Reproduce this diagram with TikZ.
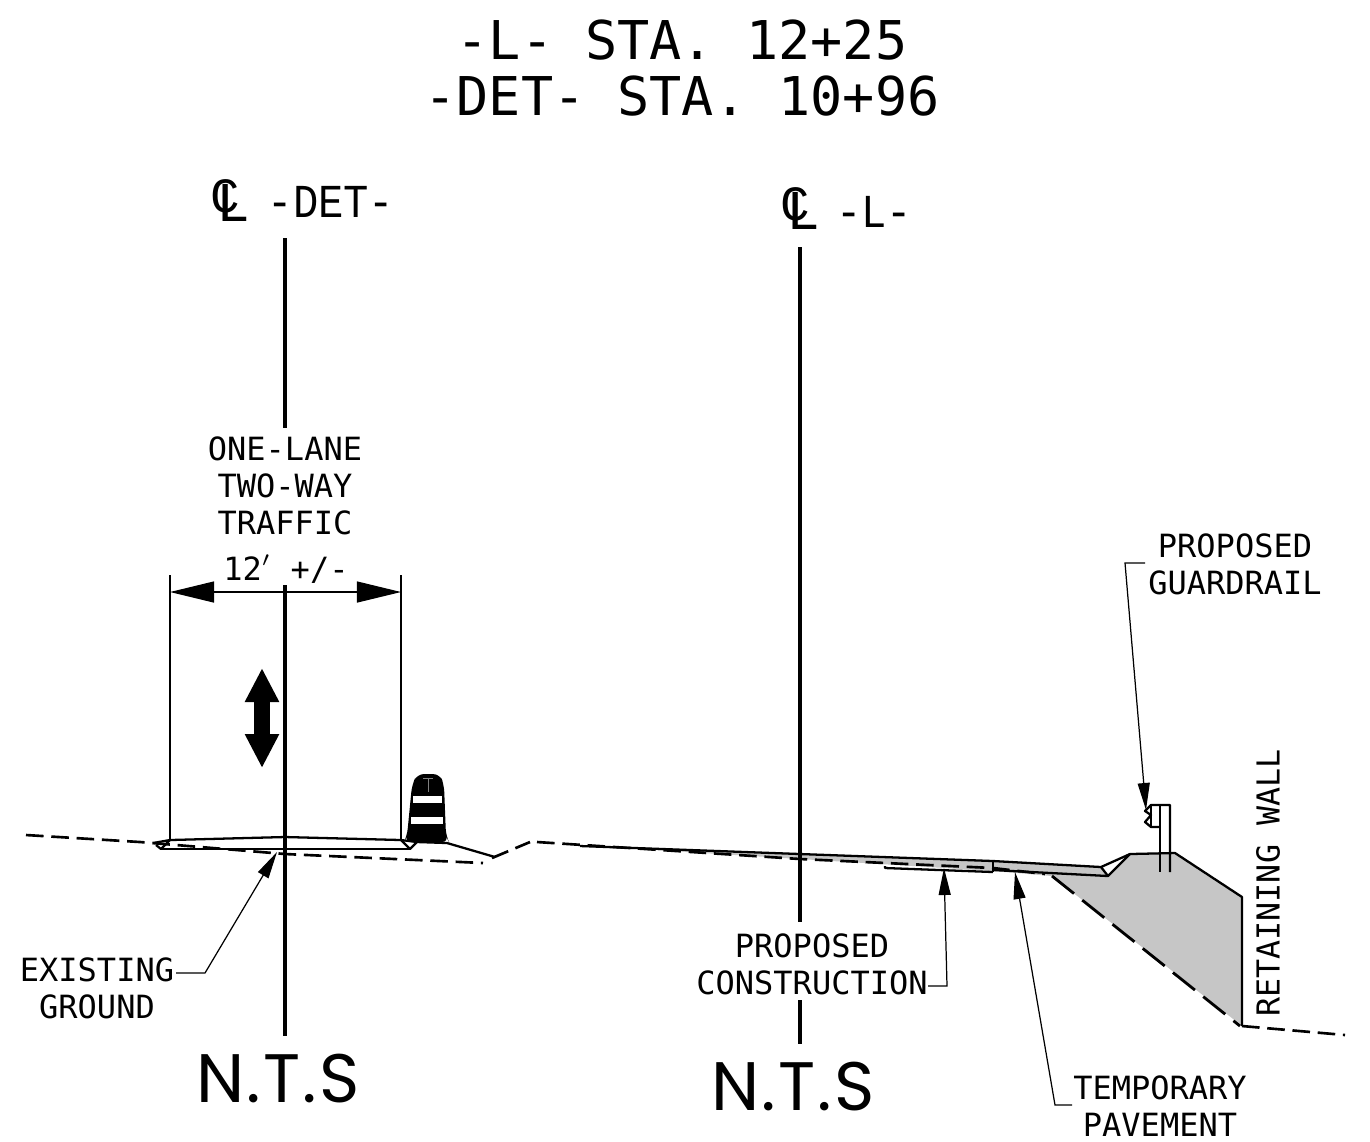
\documentclass[tikz,border=0pt]{standalone}
\usepackage{fontspec}
\usetikzlibrary{arrows.meta}
\newfontfamily\drawfont{DejaVu Sans Mono}
\newfontfamily\thinfont{Liberation Mono}
\newfontfamily\ntsfont{Poppins}
\newcommand{\ntslabel}{N\kern0.6pt.\kern0.6pt T\kern0.6pt.\kern0.6pt S}
\tikzset{
  titletext/.style={font=\drawfont\fontsize{15.2}{15.7}\selectfont,align=center,inner sep=0pt},
  labeltext/.style={font=\drawfont\fontsize{9.1}{10.6}\selectfont,align=center,inner sep=0pt},
  cltext/.style={font=\thinfont\fontsize{12}{12}\selectfont,inner sep=0pt},
  clsymbol/.style={font=\thinfont\fontsize{14}{14}\selectfont,inner sep=0pt},
  ntstext/.style={font=\ntsfont\fontsize{19.5}{20}\selectfont,inner sep=0pt},
  centerline/.style={line width=0.95pt},
  profile/.style={line width=0.65pt,line join=round},
  ground/.style={line width=0.75pt,dash pattern=on 5pt off 2.2pt},
  thinline/.style={line width=0.35pt},
  leader/.style={line width=0.35pt,-{Triangle[length=0.27cm,width=0.12cm]}}
}
\begin{document}
\begin{tikzpicture}[x=0.01cm,y=-0.01cm]
    \useasboundingbox (0,0) rectangle (1370,1141);
    % Titles
    \node[titletext] (title) at (682,68) {-L- STA. 12+25\\-DET- STA. 10+96};
    % Centerline labels
    \node[clsymbol] (clc1) at (225,196) {C};
    \node[clsymbol,font=\thinfont\fontsize{16}{16}\selectfont] (cll1) at (233,203) {L};
    \node[cltext] (det) at (331,202) {\scalebox{1}[1.12]{-DET-}};
    \node[clsymbol] (clc2) at (795,204) {C};
    \node[clsymbol,font=\thinfont\fontsize{16}{16}\selectfont] (cll2) at (803,211) {L};
    \node[cltext] (lname) at (874,212) {\scalebox{1}[1.12]{-L-}};
    % Gray fill under the new work
    \fill[gray!45] (590,846) -- (800,854) -- (993,861) -- (1101,867) -- (1108,876) -- (1130,854) -- (1175,853)
      -- (1242,897) -- (1242,1026) -- (1052,876) -- (993,871) -- (800,859) -- cycle;
    % Left profile
    \draw[profile] (153,843) -- (170,840) -- (285,837) -- (401,840) -- (417,842) -- (447,843) -- (495,857);
    \draw[profile] (156,845) -- (161,849) -- (170,840);
    \draw[profile] (161,849) -- (410,849);
    \draw[profile] (401,840) -- (410,849) -- (417,842);
    \draw[ground] (26,835) -- (140,842) -- (285,854) -- (483,863);
    \draw[ground] (492,858) -- (530,842);
    % Right profile
    \draw[profile] (580,846) -- (800,854) -- (993,861) -- (1101,867) -- (1130,854) -- (1175,853) -- (1242,897) -- (1242,1026);
    \draw[profile] (993,861) -- (993,872);
    \draw[profile] (885,866) -- (885,868) -- (993,872);
    \draw[profile] (993,870) -- (1108,876) -- (1130,854);
    \draw[profile] (1101,867) -- (1108,876);
    \draw[ground] (537,842) -- (800,859) -- (993,868) -- (1045,874);
    \draw[ground,dash pattern=on 8pt off 3pt,line width=0.8pt] (1052,876) -- (1240,1026);
    \draw[ground] (1242,1026) -- (1345,1035);
    % Guardrail
    \draw[profile] (1160,805) -- (1160,872);
    \draw[profile] (1170,872) -- (1170,805) -- (1151,805) -- (1145,811) -- (1151,815) -- (1145,822) -- (1151,827) -- (1160,827);
    \draw[profile] (1151,805) -- (1151,827);
    % Drum
    \fill[black,rounded corners=2pt] (417,774) -- (440,774) -- (444,785) -- (446,836) -- (449,842) -- (404,842) -- (407,836) -- (412,785) -- cycle;
    \fill[white] (413,796) rectangle (442,803);
    \fill[white] (411,817) rectangle (443,824);
    \draw[gray,line width=0.2pt] (423,778) -- (433,778) (428,778) -- (428,792);
    % Center lines
    \draw[centerline] (285,238) -- (285,428);
    \draw[centerline] (285,585) -- (285,1036);
    \draw[centerline] (800,247) -- (800,922);
    \draw[centerline] (800,1000) -- (800,1044);
    % Lane width
    \foreach \x in {170,401} {
      \draw[thinline] (\x,575) -- (\x,840);
    }
    \draw[thinline,{Triangle[length=0.44cm,width=0.21cm]}-{Triangle[length=0.44cm,width=0.21cm]}] (170,592) -- (401,592);
    \draw[line width=0.16cm,{Triangle[length=0.34cm,width=0.32cm]}-{Triangle[length=0.34cm,width=0.32cm]}] (262,668) -- (262,768);
    % Labels
    \node[labeltext] (traffic) at (285,486) {ONE-LANE\\TWO-WAY\\TRAFFIC};
    \node[labeltext] (width) at (286,569) {12$'$ +/-};
    \node[labeltext] (ground) at (97,988) {EXISTING\\GROUND};
    \node[labeltext] (construction) at (812,964) {PROPOSED\\CONSTRUCTION};
    \node[labeltext] (temporary) at (1160,1106) {TEMPORARY\\PAVEMENT};
    \node[labeltext] (guardrail) at (1235,564) {PROPOSED\\GUARDRAIL};
    \node[labeltext,font=\drawfont\fontsize{9}{10}\selectfont,rotate=90] (wall) at (1268,883) {RETAINING WALL};
    \node[ntstext] (nts1) at (278,1079) {\ntslabel};
    \node[ntstext] (nts2) at (793,1087) {\ntslabel};
    % Leaders
    \coordinate (groundtip) at (277,852);
    \coordinate (consttip) at (944,868);
    \coordinate (temptip) at (1015,872);
    \coordinate (railtip) at (1146,810);
    \draw[leader] (176,973) -- (205,973) -- (groundtip);
    \draw[leader] (928,986) -- (947,986) -- (consttip);
    \draw[leader] (1072,1105) -- (1055,1105) -- (temptip);
    \draw[leader] (1145,563) -- (1125,563) -- (railtip);
  \end{tikzpicture}
\end{document}
